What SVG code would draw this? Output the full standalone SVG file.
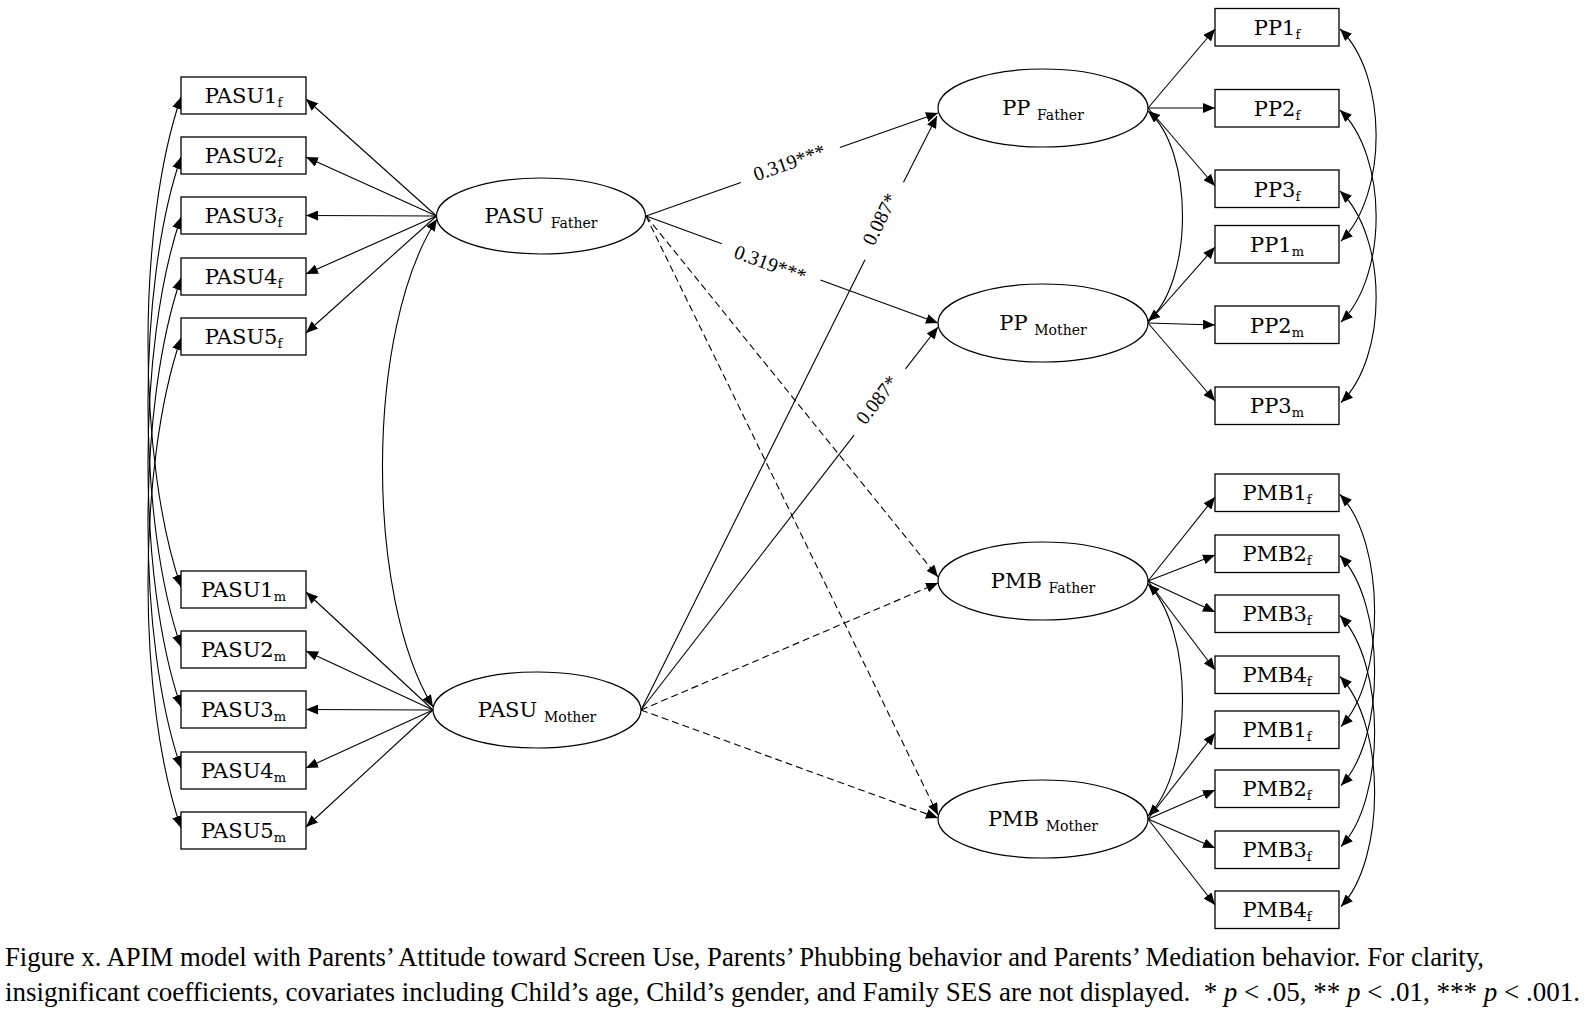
<svg xmlns="http://www.w3.org/2000/svg" width="1587" height="1014" viewBox="0 0 1587 1014">
<defs>
<style>
.box{fill:#fff;stroke:#000;stroke-width:1.3}
.ell{fill:#fff;stroke:#000;stroke-width:1.2}
.lbl{font-family:"DejaVu Serif",serif;font-size:21px;fill:#000}
.sub{font-size:13px}
.esub{font-size:14px}
.ln{fill:none;stroke:#000;stroke-width:1.1}
.arr{marker-end:url(#ah)}
.dbl{marker-start:url(#ah);marker-end:url(#ah)}
.dash{stroke-dasharray:7,4}
.coef{font-family:"Liberation Serif",serif;font-size:20px;fill:#000}
.cap{font-family:"Liberation Serif",serif;font-size:26.5px;fill:#000}
</style>
<marker id="ah" viewBox="0 0 12 10" refX="12" refY="5" markerWidth="12" markerHeight="10" markerUnits="userSpaceOnUse" orient="auto-start-reverse"><path d="M0,0 L12,5 L0,10 z" fill="#000"/></marker>
</defs>
<rect width="1587" height="1014" fill="#fff"/>

<g id="connectors">
<path class="ln arr" d="M436.5,216 L306,99"/>
<path class="ln arr" d="M436.5,216 L306,157"/>
<path class="ln arr" d="M436.5,216 L306,215.5"/>
<path class="ln arr" d="M436.5,216 L306,274"/>
<path class="ln arr" d="M436.5,216 L306,333"/>
<path class="ln arr" d="M433,710 L306,592"/>
<path class="ln arr" d="M433,710 L306,651"/>
<path class="ln arr" d="M433,710 L306,709.5"/>
<path class="ln arr" d="M433,710 L306,768"/>
<path class="ln arr" d="M433,710 L306,827"/>
<path class="ln dbl" d="M181,97 C137,225.5 137,459.5 181,587"/>
<path class="ln dbl" d="M181,157 C137,285.5 137,519.5 181,647"/>
<path class="ln dbl" d="M181,217 C137,345.5 137,579.5 181,707"/>
<path class="ln dbl" d="M181,278 C137,406.5 137,640.5 181,768"/>
<path class="ln dbl" d="M181,338 C137,466.5 137,700.5 181,828"/>
<path class="ln dbl" d="M437,219 C365,330 365,596 433,707"/>
<path class="ln" d="M646,216 L740.9,182.5"/>
<path class="ln arr" d="M839.9,147.6 L938,113"/>
<path class="ln" d="M646,216 L721.8,243.8"/>
<path class="ln arr" d="M820.4,279.9 L938,323"/>
<path class="ln" d="M641,710 L865,259.7"/>
<path class="ln arr" d="M903.5,182.3 L937,116"/>
<path class="ln" d="M641,710 L854.1,435.2"/>
<path class="ln arr" d="M905.5,368.9 L938,327"/>
<path class="ln arr dash" d="M646,216 L938,577"/>
<path class="ln arr dash" d="M646,216 L938,815"/>
<path class="ln arr dash" d="M641,710 L938,583"/>
<path class="ln arr dash" d="M641,710 L938,818"/>
<path class="ln arr" d="M1148,108 L1215,29"/>
<path class="ln arr" d="M1148,108 L1215,108"/>
<path class="ln arr" d="M1148,108 L1215,186"/>
<path class="ln arr" d="M1148,323 L1215,247"/>
<path class="ln arr" d="M1148,323 L1215,325"/>
<path class="ln arr" d="M1148,323 L1215,401"/>
<path class="ln arr" d="M1148,581 L1215,497"/>
<path class="ln arr" d="M1148,581 L1215,555"/>
<path class="ln arr" d="M1148,581 L1215,612"/>
<path class="ln arr" d="M1148,581 L1215,670"/>
<path class="ln arr" d="M1148,819 L1215,733"/>
<path class="ln arr" d="M1148,819 L1215,790"/>
<path class="ln arr" d="M1148,819 L1215,848"/>
<path class="ln arr" d="M1148,819 L1215,905"/>
<path class="ln dbl" d="M1148,111 C1194,150 1194,282 1148,321"/>
<path class="ln dbl" d="M1148,584 C1194,630 1194,770 1148,816"/>
<path class="ln dbl" d="M1340,29 C1388,75 1388,195 1341,241"/>
<path class="ln dbl" d="M1340,110 C1388,156 1388,276 1341,322"/>
<path class="ln dbl" d="M1340,191 C1388,237 1388,357 1341,402.5"/>
<path class="ln dbl" d="M1340,494.5 C1386,542.5 1386,679.5 1341,726.5"/>
<path class="ln dbl" d="M1340,555.5 C1386,603.5 1386,738.5 1341,785.5"/>
<path class="ln dbl" d="M1340,615.5 C1386,663.5 1386,799.5 1341,846.5"/>
<path class="ln dbl" d="M1340,676.5 C1386,724.5 1386,859.5 1341,906.5"/>
<text class="coef" text-anchor="middle" transform="translate(790.3,165.1) rotate(-19.4)" x="0" y="4">0.319***</text>
<text class="coef" text-anchor="middle" transform="translate(771.1,261.8) rotate(20.1)" x="0" y="9">0.319***</text>
<text class="coef" text-anchor="middle" transform="translate(884.2,221.2) rotate(-63.5)" x="0" y="2">0.087*</text>
<text class="coef" text-anchor="middle" transform="translate(879.8,402.1) rotate(-52.2)" x="0" y="3">0.087*</text>
</g>

<g id="PASU1f"><rect class="box" x="181" y="77" width="125" height="37"/><text class="lbl" x="243.5" y="103" text-anchor="middle">PASU1<tspan class="sub" dy="4">f</tspan></text></g>
<g id="PASU2f"><rect class="box" x="181" y="137" width="125" height="37"/><text class="lbl" x="243.5" y="163" text-anchor="middle">PASU2<tspan class="sub" dy="4">f</tspan></text></g>
<g id="PASU3f"><rect class="box" x="181" y="197" width="125" height="37"/><text class="lbl" x="243.5" y="223" text-anchor="middle">PASU3<tspan class="sub" dy="4">f</tspan></text></g>
<g id="PASU4f"><rect class="box" x="181" y="258" width="125" height="37"/><text class="lbl" x="243.5" y="284" text-anchor="middle">PASU4<tspan class="sub" dy="4">f</tspan></text></g>
<g id="PASU5f"><rect class="box" x="181" y="318" width="125" height="37"/><text class="lbl" x="243.5" y="344" text-anchor="middle">PASU5<tspan class="sub" dy="4">f</tspan></text></g>
<g id="PASU1m"><rect class="box" x="181" y="571" width="125" height="37"/><text class="lbl" x="243.5" y="597" text-anchor="middle">PASU1<tspan class="sub" dy="4">m</tspan></text></g>
<g id="PASU2m"><rect class="box" x="181" y="631" width="125" height="37"/><text class="lbl" x="243.5" y="657" text-anchor="middle">PASU2<tspan class="sub" dy="4">m</tspan></text></g>
<g id="PASU3m"><rect class="box" x="181" y="691" width="125" height="37"/><text class="lbl" x="243.5" y="717" text-anchor="middle">PASU3<tspan class="sub" dy="4">m</tspan></text></g>
<g id="PASU4m"><rect class="box" x="181" y="752" width="125" height="37"/><text class="lbl" x="243.5" y="778" text-anchor="middle">PASU4<tspan class="sub" dy="4">m</tspan></text></g>
<g id="PASU5m"><rect class="box" x="181" y="812" width="125" height="37"/><text class="lbl" x="243.5" y="838" text-anchor="middle">PASU5<tspan class="sub" dy="4">m</tspan></text></g>

<g id="PASU_Father"><ellipse class="ell" cx="541" cy="216" rx="104.5" ry="38"/><text class="lbl" x="541" y="223" text-anchor="middle">PASU <tspan class="esub" dy="5">Father</tspan></text></g>
<g id="PASU_Mother"><ellipse class="ell" cx="537" cy="710" rx="104" ry="38"/><text class="lbl" x="537" y="717" text-anchor="middle">PASU <tspan class="esub" dy="5">Mother</tspan></text></g>
<g id="PP_Father"><ellipse class="ell" cx="1043" cy="108" rx="105" ry="39"/><text class="lbl" x="1043" y="115" text-anchor="middle">PP <tspan class="esub" dy="5">Father</tspan></text></g>
<g id="PP_Mother"><ellipse class="ell" cx="1043" cy="323" rx="105" ry="39"/><text class="lbl" x="1043" y="330" text-anchor="middle">PP <tspan class="esub" dy="5">Mother</tspan></text></g>
<g id="PMB_Father"><ellipse class="ell" cx="1043" cy="581" rx="105" ry="39"/><text class="lbl" x="1043" y="588" text-anchor="middle">PMB <tspan class="esub" dy="5">Father</tspan></text></g>
<g id="PMB_Mother"><ellipse class="ell" cx="1043" cy="819" rx="105" ry="39"/><text class="lbl" x="1043" y="826" text-anchor="middle">PMB <tspan class="esub" dy="5">Mother</tspan></text></g>

<g id="PP1f"><rect class="box" x="1215" y="8.5" width="124" height="37.5"/><text class="lbl" x="1277" y="34.5" text-anchor="middle">PP1<tspan class="sub" dy="4">f</tspan></text></g>
<g id="PP2f"><rect class="box" x="1215" y="89.5" width="124" height="37.5"/><text class="lbl" x="1277" y="115.5" text-anchor="middle">PP2<tspan class="sub" dy="4">f</tspan></text></g>
<g id="PP3f"><rect class="box" x="1215" y="170" width="124" height="37.5"/><text class="lbl" x="1277" y="196.5" text-anchor="middle">PP3<tspan class="sub" dy="4">f</tspan></text></g>
<g id="PP1m"><rect class="box" x="1215" y="225.5" width="124" height="37.5"/><text class="lbl" x="1277" y="251.5" text-anchor="middle">PP1<tspan class="sub" dy="4">m</tspan></text></g>
<g id="PP2m"><rect class="box" x="1215" y="306" width="124" height="37.5"/><text class="lbl" x="1277" y="332.5" text-anchor="middle">PP2<tspan class="sub" dy="4">m</tspan></text></g>
<g id="PP3m"><rect class="box" x="1215" y="387" width="124" height="37.5"/><text class="lbl" x="1277" y="413" text-anchor="middle">PP3<tspan class="sub" dy="4">m</tspan></text></g>
<g id="PMB1f_a"><rect class="box" x="1215" y="474" width="124" height="37.5"/><text class="lbl" x="1277" y="500" text-anchor="middle">PMB1<tspan class="sub" dy="4">f</tspan></text></g>
<g id="PMB2f_a"><rect class="box" x="1215" y="535" width="124" height="37.5"/><text class="lbl" x="1277" y="561" text-anchor="middle">PMB2<tspan class="sub" dy="4">f</tspan></text></g>
<g id="PMB3f_a"><rect class="box" x="1215" y="595" width="124" height="37.5"/><text class="lbl" x="1277" y="621" text-anchor="middle">PMB3<tspan class="sub" dy="4">f</tspan></text></g>
<g id="PMB4f_a"><rect class="box" x="1215" y="656" width="124" height="37.5"/><text class="lbl" x="1277" y="682" text-anchor="middle">PMB4<tspan class="sub" dy="4">f</tspan></text></g>
<g id="PMB1f_b"><rect class="box" x="1215" y="711" width="124" height="37.5"/><text class="lbl" x="1277" y="737" text-anchor="middle">PMB1<tspan class="sub" dy="4">f</tspan></text></g>
<g id="PMB2f_b"><rect class="box" x="1215" y="770" width="124" height="37.5"/><text class="lbl" x="1277" y="796" text-anchor="middle">PMB2<tspan class="sub" dy="4">f</tspan></text></g>
<g id="PMB3f_b"><rect class="box" x="1215" y="831" width="124" height="37.5"/><text class="lbl" x="1277" y="857" text-anchor="middle">PMB3<tspan class="sub" dy="4">f</tspan></text></g>
<g id="PMB4f_b"><rect class="box" x="1215" y="891" width="124" height="37.5"/><text class="lbl" x="1277" y="917" text-anchor="middle">PMB4<tspan class="sub" dy="4">f</tspan></text></g>

<g id="caption">
<text class="cap" x="5" y="966" textLength="1479" lengthAdjust="spacingAndGlyphs">Figure x. APIM model with Parents’ Attitude toward Screen Use, Parents’ Phubbing behavior and Parents’ Mediation behavior. For clarity,</text>
<text class="cap" x="5" y="1001" textLength="1575" lengthAdjust="spacingAndGlyphs">insignificant coefficients, covariates including Child’s age, Child’s gender, and Family SES are not displayed.&#160; * <tspan font-style="italic">p</tspan> &lt; .05, ** <tspan font-style="italic">p</tspan> &lt; .01, *** <tspan font-style="italic">p</tspan> &lt; .001.</text>
</g>
</svg>
